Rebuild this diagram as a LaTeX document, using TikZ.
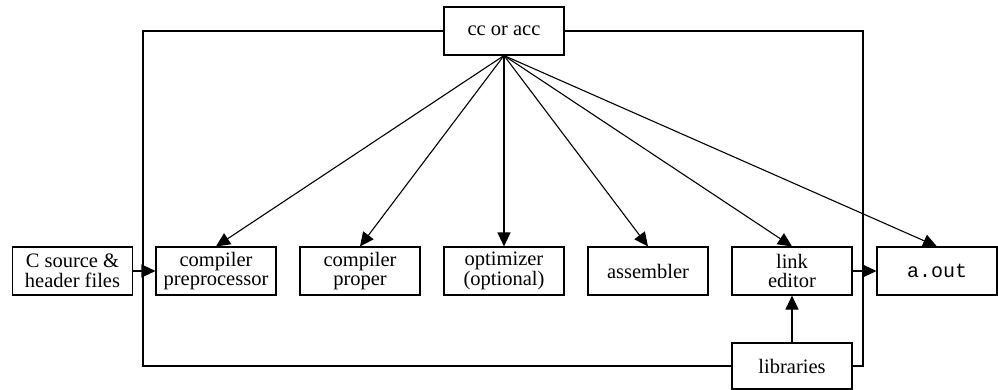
\documentclass[tikz,border=0pt]{standalone}
\usepackage{fontspec}
\setmainfont{Liberation Serif}
\setmonofont{Liberation Mono}
\usetikzlibrary{arrows.meta}
\begin{document}
\begin{tikzpicture}[x=1pt,y=1pt,
  line width=1.1pt,
  box/.style={draw, minimum width=120pt, minimum height=48pt, inner sep=0pt, align=center,
    font=\fontsize{20.5}{19.5}\selectfont},
  arr/.style={-{Triangle[length=14pt,width=13pt]}}]
\useasboundingbox (0,0) rectangle (998,-390);
\node[box] (cc) at (504,-31) {cc or acc};
\node[box] (src) at (72.5,-271) {C source \&\\header files};
\node[box] (pre) at (216,-271) {compiler\\preprocessor};
\node[box] (prop) at (360,-271) {compiler\\proper};
\node[box] (opt) at (504,-271) {optimizer\\(optional)};
\node[box] (asm) at (648,-271) {assembler};
\node[box, font=\fontsize{20.5}{18.5}\selectfont] (link) at (792,-271) {link\\editor};
\node[box, font=\fontsize{20}{20}\ttfamily] (aout) at (937,-271) {a.out};
\node[box, minimum height=46pt] (lib) at (792,-366) {libraries};
\coordinate (tl) at (143,-31);
\coordinate (bl) at (143,-366);
\coordinate (tr) at (863,-31);
\coordinate (br) at (863,-366);
\draw (cc.west) -- (tl) -- (bl) -- (lib.west);
\draw (cc.east) -- (tr) -- (br) -- (lib.east);
\foreach \n in {pre,prop,opt,asm,link,aout}
  \draw[arr] (cc.south) -- (\n.north);
\draw[arr] (src.east) -- (pre.west);
\draw[arr] (link.east) -- (aout.west);
\draw[arr] (lib.north) -- (link.south);
\end{tikzpicture}
\end{document}
